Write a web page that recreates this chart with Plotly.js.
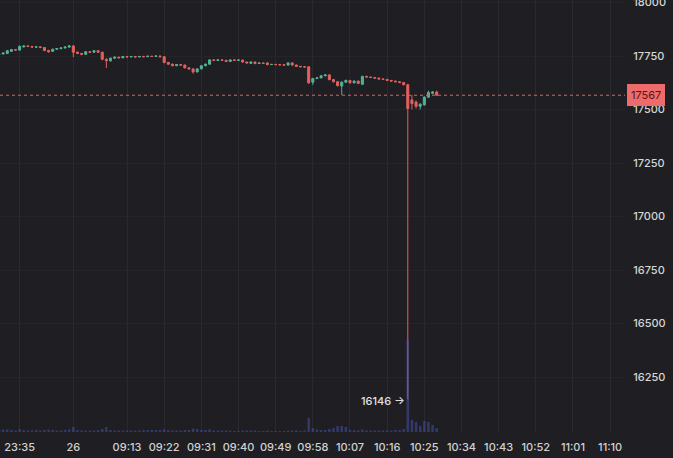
<!DOCTYPE html>
<html>
<head>
<meta charset="utf-8">
<script src="https://cdn.plot.ly/plotly-3.0.1.min.js"></script>
<style>html,body{margin:0;padding:0;background:#1f1f23;}#chart{width:673px;height:458px;}</style>
</head>
<body>
<div id="chart"></div>
<script>
// ---- data (1-minute bars) ----
const nightStart = '23:30';   // first bar of the previous night session shown
const dayStart = '09:00';     // first bar of day 26
const nightBars = 18;

const open = [17757,17760,17762,17772,17780,17778,17793,17797,17795,17792,17793,17790,17776,17772,17782,17785,17788,17792,
17797,17768,17762,17758,17770,17768,17775,17768,17735,17728,17740,17745,17742,17748,17746,17748,17746,17748,17747,17749,17748,17750,
17747,17720,17712,17705,17710,17708,17695,17690,17676,17690,17705,17712,17732,17730,17732,17730,17725,17732,17730,17731,
17722,17716,17722,17715,17717,17718,17710,17711,17710,17709,17708,17718,17708,17702,17700,17700,17628,17645,17648,17658,
17662,17640,17630,17610,17628,17636,17625,17633,17618,17655,17652,17650,17647,17643,17641,17636,17633,17630,17626,17616,
17545,17535,17515,17522,17558,17576,17582];
const high = [17763,17766,17777,17783,17783,17800,17800,17800,17797,17796,17795,17792,17779,17784,17787,17790,17794,17802,
17802,17771,17765,17773,17773,17778,17778,17770,17740,17743,17748,17747,17751,17750,17751,17750,17751,17751,17752,17751,17753,17752,
17749,17723,17715,17713,17712,17710,17698,17692,17693,17708,17715,17735,17735,17735,17734,17732,17735,17734,17734,17733,
17724,17725,17724,17720,17719,17720,17713,17713,17712,17711,17721,17720,17710,17704,17702,17702,17648,17651,17661,17665,
17664,17643,17633,17631,17640,17638,17636,17635,17658,17658,17654,17652,17649,17645,17643,17638,17635,17632,17628,17620,
17568,17542,17530,17562,17588,17586,17588];
const low = [17752,17757,17760,17770,17775,17775,17790,17792,17790,17789,17787,17773,17766,17770,17779,17782,17785,17789,
17745,17759,17754,17756,17765,17765,17765,17730,17694,17724,17737,17739,17740,17743,17744,17744,17744,17745,17745,17746,17746,17744,
17716,17709,17702,17703,17705,17692,17687,17668,17673,17688,17702,17710,17727,17728,17727,17722,17723,17728,17728,17719,
17715,17714,17712,17713,17714,17707,17708,17708,17707,17706,17706,17705,17699,17698,17697,17620,17615,17642,17646,17655,
17637,17627,17608,17568,17625,17622,17622,17619,17616,17650,17648,17645,17641,17639,17634,17631,17628,17624,17613,16146,
17500,17505,17500,17518,17555,17572,17565];
const close = [17760,17764,17775,17780,17778,17795,17797,17795,17792,17793,17790,17776,17770,17782,17785,17788,17792,17797,
17768,17762,17758,17770,17768,17775,17768,17735,17728,17740,17745,17742,17748,17746,17748,17746,17748,17747,17749,17748,17750,17747,
17720,17712,17705,17710,17708,17695,17690,17676,17690,17705,17712,17732,17730,17732,17730,17725,17732,17730,17731,17722,
17718,17722,17715,17717,17716,17710,17711,17710,17709,17708,17718,17708,17702,17700,17699,17625,17645,17648,17658,17662,
17640,17630,17612,17628,17636,17625,17633,17622,17655,17652,17650,17647,17643,17641,17636,17633,17630,17626,17616,17505,
17528,17515,17525,17558,17580,17582,17567];
const volume = [20,25,25,20,15,30,20,15,15,20,15,20,25,20,15,15,20,25,
50,20,15,15,15,15,20,30,50,20,15,15,15,15,15,15,15,20,20,20,20,20,
25,20,15,15,15,20,20,35,30,20,20,25,15,15,15,15,15,10,10,15,
15,15,15,10,10,15,10,10,10,10,15,15,15,10,15,140,40,25,20,20,
30,40,60,60,50,20,20,15,25,15,15,15,15,15,15,15,20,20,30,920,
120,100,60,110,100,70,40];

const tickTimes = ['23:35','09:00','09:13','09:22','09:31','09:40','09:49','09:58','10:07','10:16','10:25','10:34','10:43','10:52','11:01','11:10'];
const tickText  = ['23:35','26','09:13','09:22','09:31','09:40','09:49','09:58','10:07','10:16','10:25','10:34','10:43','10:52','11:01','11:10'];
const yTicks = [16250,16500,16750,17000,17250,17500,17750,18000];

// ---- time slots (bars + future empty slots) ----
function addMin(t, m){const [h,mm]=t.split(':').map(Number);let tot=h*60+mm+m;tot=((tot%1440)+1440)%1440;return String(Math.floor(tot/60)).padStart(2,'0')+':'+String(tot%60).padStart(2,'0');}
const slots = [];
for (let i=0;i<nightBars;i++) slots.push(addMin(nightStart,i));
for (let i=0;i<140;i++) slots.push(addMin(dayStart,i));
const xs = open.map((_,i)=>i);
const tickvals = tickTimes.map(t=>slots.indexOf(t));

const up = '#53b395', down = '#e5605f';
const last = close[close.length-1];
let minIdx = 0; low.forEach((v,i)=>{ if(v<low[minIdx]) minIdx=i; });

const traces = [
  {type:'candlestick', x:xs, open:open, high:high, low:low, close:close,
   increasing:{line:{color:up,width:1}, fillcolor:up},
   decreasing:{line:{color:down,width:1}, fillcolor:down},
   whiskerwidth:0, hoverinfo:'skip'},
  {type:'bar', x:xs, y:volume, yaxis:'y2', marker:{color:'rgba(72,84,175,0.5)', line:{width:0}}, hoverinfo:'skip'}
];

const fontFam = 'Inter, "Open Sans", sans-serif';
const layout = {
  width:673, height:458,
  paper_bgcolor:'#1f1f23', plot_bgcolor:'#1f1f23',
  margin:{l:0, r:48, t:0, b:26},
  showlegend:false, hovermode:false, bargap:0.4,
  xaxis:{range:[0.24,151.6], tickvals:tickvals, ticktext:tickText, showgrid:true, gridcolor:'#29292f', gridwidth:1,
         zeroline:false, showline:false, ticks:'outside', ticklen:5, tickcolor:'rgba(0,0,0,0)', rangeslider:{visible:false}, fixedrange:true,
         tickfont:{family:fontFam, size:11, color:'#d2d2d2', weight:500}},
  yaxis:{side:'right', range:[15993,18012], tickvals:yTicks, ticktext:yTicks.map(String), showgrid:true, gridcolor:'#242429',
         zeroline:false, showline:false, ticks:'outside', ticklen:5, tickcolor:'rgba(0,0,0,0)', fixedrange:true,
         ticklabeloverflow:'allow',
         tickfont:{family:fontFam, size:11, color:'#d6d6d6', weight:500}},
  yaxis2:{overlaying:'y', range:[0,4320], visible:false, fixedrange:true},
  shapes:[{type:'line', xref:'paper', x0:0, x1:1, yref:'y', y0:last, y1:last, line:{color:'#e5605f', width:1, dash:'dot'}}],
  annotations:[
    {xref:'paper', x:1, xanchor:'left', xshift:2, yref:'y', y:last, yanchor:'middle', text:String(last), showarrow:false,
     bgcolor:'#ee6b6b', bordercolor:'#ee6b6b', borderpad:3, borderwidth:1, font:{family:fontFam, size:11, color:'#5a1616'}},
    {xref:'x', x:minIdx, xanchor:'right', xshift:-1, yref:'y', y:low[minIdx], yanchor:'middle', yshift:-2, text:low[minIdx]+' →', showarrow:false,
     font:{family:fontFam, size:11, color:'#e2e2e2', weight:500}}
  ]
};
Plotly.newPlot('chart', traces, layout, {displayModeBar:false, staticPlot:true});
</script>
</body>
</html>
